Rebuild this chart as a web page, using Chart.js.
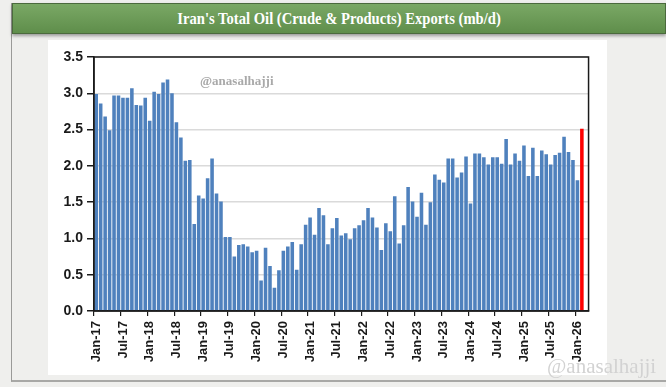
<!DOCTYPE html>
<html>
<head>
<meta charset="utf-8">
<script src="https://cdn.jsdelivr.net/npm/chart.js@4"></script>
<style>
  html, body { margin: 0; padding: 0; }
  body { width: 666px; height: 387px; background: #efefed; position: relative; overflow: hidden; font-family: "Liberation Sans", Arial, sans-serif; }
  .frame { position: absolute; left: 11px; top: 3px; width: 660px; height: 377px; border-left: 1px solid #9a9a98; border-bottom: 2px solid #a8a8a6; }
  .banner {
    position: absolute; left: 12px; top: 3px; width: 652px; height: 29px;
    background: linear-gradient(#7aa865, #5f8e4b);
    border: 1px solid #4b6a3d; box-shadow: 0 2px 3px rgba(0,0,0,0.35);
    color: #fff; text-align: center; line-height: 29px;
    font-family: "Liberation Serif", serif; font-weight: bold; font-size: 17px;
  }
  .banner span { display: inline-block; transform: scaleX(0.86); white-space: nowrap; }
  .panel { position: absolute; left: 48px; top: 40px; width: 559px; height: 335px; background: #fff; }
  canvas { position: absolute; left: 0; top: 0; }
  .wm1 { position: absolute; left: 200px; top: 73px; color: #a9a9a9; font-family: "Liberation Serif", serif; font-weight: bold; font-size: 13px; }
  .wm2 { position: absolute; left: 547px; top: 354px; color: #d2d2d2; font-family: "Liberation Serif", serif; font-size: 21px; }
</style>
</head>
<body>
<div class="frame"></div>
<div class="banner"><span>Iran's Total Oil (Crude &amp; Products) Exports (mb/d)</span></div>
<div class="panel"><canvas id="chart" width="559" height="335"></canvas></div>
<div class="wm1">@anasalhajji</div>
<div class="wm2">@anasalhajji</div>
<script>
// Months Jan-17 .. Feb-26
const months = ['Jan','Feb','Mar','Apr','May','Jun','Jul','Aug','Sep','Oct','Nov','Dec'];
const labels = [];
for (let y = 17; y <= 26; y++) {
  for (let m = 0; m < 12; m++) {
    if (y === 26 && m > 1) break;
    labels.push(months[m] + '-' + y);
  }
}

// Exports, mb/d
const exports2017 = [2.99, 2.86, 2.68, 2.49, 2.97, 2.97, 2.94, 2.94, 3.07, 2.84, 2.83, 2.94];
const exports2018 = [2.62, 3.02, 2.99, 3.15, 3.19, 3.00, 2.60, 2.39, 2.07, 2.08, 1.20, 1.59];
const exports2019 = [1.55, 1.83, 2.10, 1.62, 1.51, 1.02, 1.02, 0.75, 0.91, 0.92, 0.89, 0.81];
const exports2020 = [0.83, 0.42, 0.87, 0.62, 0.32, 0.56, 0.83, 0.89, 0.95, 0.57, 0.92, 1.19];
const exports2021 = [1.29, 1.05, 1.42, 1.32, 0.92, 1.14, 1.28, 1.04, 1.07, 0.99, 1.14, 1.18];
const exports2022 = [1.25, 1.42, 1.29, 1.15, 0.84, 1.21, 1.10, 1.58, 0.93, 1.18, 1.71, 1.51];
const exports2023 = [1.30, 1.63, 1.19, 1.50, 1.88, 1.81, 1.77, 2.10, 2.10, 1.84, 1.91, 2.13];
const exports2024 = [1.48, 2.17, 2.17, 2.12, 2.02, 2.12, 2.12, 2.03, 2.37, 2.02, 2.17, 2.07];
const exports2025 = [2.28, 1.86, 2.25, 1.86, 2.21, 2.16, 2.02, 2.15, 2.18, 2.40, 2.19, 2.08];
const exports2026 = [1.80, 2.51];

const values = [].concat(exports2017, exports2018, exports2019, exports2020, exports2021,
  exports2022, exports2023, exports2024, exports2025, exports2026);

const yTicks = [0, 0.5, 1.0, 1.5, 2.0, 2.5, 3.0, 3.5];

// last month (estimate) in red
const barColors = values.map((v, i) => i === values.length - 1 ? '#ff0000' : '#4f81bd');

// one empty slot after the last month, like the source's axis
const axisLabels = labels.concat(['']);
const axisValues = values.concat([null]);

// Border round the plot area
const plotBorder = {
  id: 'plotBorder',
  afterDraw(chart) {
    const { ctx, chartArea: a } = chart;
    ctx.save();
    ctx.strokeStyle = '#1a1a1a';
    ctx.lineWidth = 1.5;
    ctx.strokeRect(a.left, a.top, a.right - a.left, a.bottom - a.top);
    ctx.restore();
  }
};

new Chart(document.getElementById('chart'), {
  type: 'bar',
  data: {
    labels: axisLabels,
    datasets: [{
      data: axisValues,
      backgroundColor: barColors,
      barPercentage: 0.8,
      categoryPercentage: 1.0
    }]
  },
  options: {
    responsive: false,
    animation: false,
    layout: { padding: { top: 17, right: 16, left: 0, bottom: 0 } },
    plugins: { legend: { display: false }, tooltip: { enabled: false } },
    scales: {
      x: {
        afterFit: s => { s.height = 64; },
        border: { color: '#1a1a1a', width: 1.5 },
        grid: {
          drawOnChartArea: false,
          tickLength: 5,
          color: ctx => (ctx.index % 6 === 0 && ctx.index < labels.length) ? '#1a1a1a' : 'rgba(0,0,0,0)',
          lineWidth: 1.2
        },
        ticks: {
          autoSkip: false,
          maxRotation: 90,
          minRotation: 90,
          padding: 5,
          color: '#1a1a1a',
          font: { family: 'Liberation Sans', size: 13, weight: 'bold' },
          callback: function (v, i) { return (i % 6 === 0 && i < labels.length) ? labels[i] : ''; }
        }
      },
      y: {
        min: 0,
        max: 3.5,
        afterFit: s => { s.width = 46; },
        afterBuildTicks: s => { s.ticks = yTicks.map(v => ({ value: v })); },
        border: { color: '#1a1a1a', width: 1.5 },
        grid: { color: '#dadada', lineWidth: 1.5, tickColor: '#1a1a1a', tickLength: 7 },
        ticks: {
          color: '#1a1a1a',
          padding: 4,
          font: { family: 'Liberation Sans', size: 14, weight: 'bold' },
          callback: v => v.toFixed(1)
        }
      }
    }
  },
  plugins: [plotBorder]
});
</script>
</body>
</html>
